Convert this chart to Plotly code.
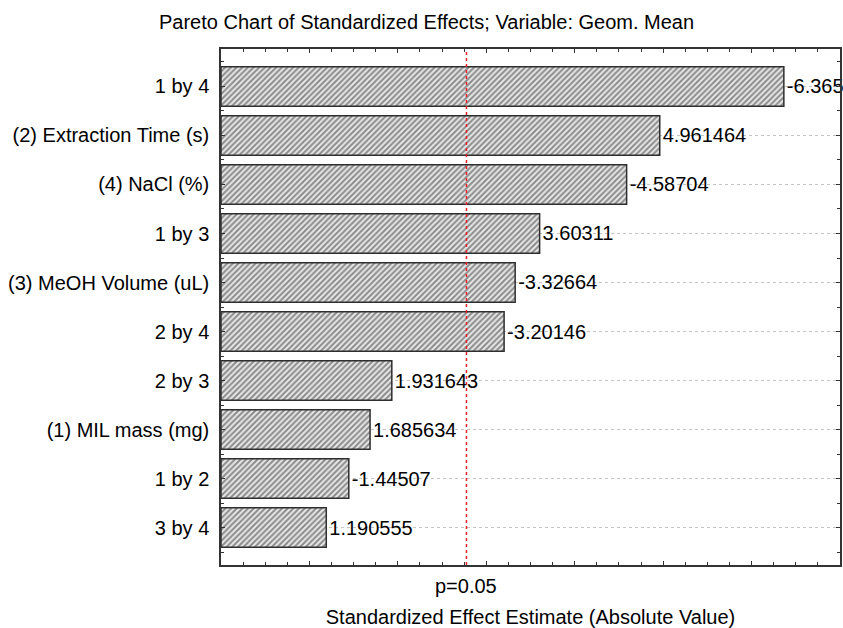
import plotly.graph_objects as go

# Data (top to bottom as shown)
categories = ["1 by 4", "(2) Extraction Time (s)", "(4) NaCl (%)", "1 by 3",
              "(3) MeOH Volume (uL)", "2 by 4", "2 by 3", "(1) MIL mass (mg)",
              "1 by 2", "3 by 4"]
effects = [-6.365, 4.961464, -4.58704, 3.60311, -3.32664, -3.20146,
           1.931643, 1.685634, -1.44507, 1.190555]
p_critical = 2.776  # t(0.05) reference line
p_label = "p=0.05"

positions = list(range(len(categories)))
abs_effects = [abs(v) for v in effects]
labels = [f"{v:.7g}" for v in effects]

FONT = "Liberation Sans, Arial, sans-serif"

fig = go.Figure()
fig.add_trace(go.Bar(
    y=positions,
    x=abs_effects,
    orientation="h",
    width=0.81,
    text=labels,
    textposition="outside",
    cliponaxis=False,
    textfont=dict(family=FONT, size=20, color="black"),
    marker=dict(
        color="#e6e6e6",
        line=dict(color="#2e2e2e", width=1.5),
        pattern=dict(shape="/", fgcolor="#2e2e2e", bgcolor="#e8e8e8",
                     size=4, solidity=0.5),
    ),
    showlegend=False,
))

fig.add_shape(type="line", xref="x", yref="paper",
              x0=p_critical, x1=p_critical, y0=0, y1=1,
              line=dict(color="#e8202a", width=1.5, dash="dot"))
fig.add_annotation(x=p_critical, xref="x", y=-0.041, yref="paper",
                   text=p_label, showarrow=False, yanchor="middle",
                   font=dict(family=FONT, size=20, color="black"))

fig.update_layout(
    width=843, height=628,
    margin=dict(l=221, r=1, t=49, b=63),
    paper_bgcolor="white", plot_bgcolor="white",
    font=dict(family=FONT, size=20, color="black"),
    title=dict(text="Pareto Chart of Standardized Effects; Variable: Geom. Mean",
               x=0.506, xref="container", xanchor="center",
               y=1 - 22 / 628, yref="container", yanchor="middle",
               font=dict(family=FONT, size=20, color="black")),
    bargap=0.19,
)

fig.update_xaxes(
    range=[0, 7.0],
    showticklabels=False,
    showgrid=False, zeroline=False,
    showline=True, linecolor="#333333", linewidth=1.5, mirror="allticks",
    ticks="inside", ticklen=4, tickcolor="#333333", dtick=1, tick0=0,
    minor=dict(ticks="inside", ticklen=3, dtick=0.25, tick0=0,
               tickcolor="#333333", showgrid=False),
    title=dict(text="Standardized Effect Estimate (Absolute Value)",
               font=dict(family=FONT, size=20, color="black"), standoff=47),
)

fig.update_yaxes(
    range=[len(categories) - 1 + 0.765, -0.765],
    tickmode="array", tickvals=positions, ticktext=categories,
    showgrid=True, gridcolor="#c4c4c4", griddash="dot", gridwidth=1,
    zeroline=False,
    showline=True, linecolor="#333333", linewidth=1.5, mirror="allticks",
    ticks="inside", ticklen=4, tickcolor="#333333",
    ticklabelstandoff=6,
    minor=dict(ticks="inside", ticklen=3, tickcolor="#333333",
               tickvals=[i + 0.5 for i in range(-1, len(categories))],
               showgrid=False),
    tickfont=dict(family=FONT, size=20, color="black"),
)

fig.write_html("out.html")
